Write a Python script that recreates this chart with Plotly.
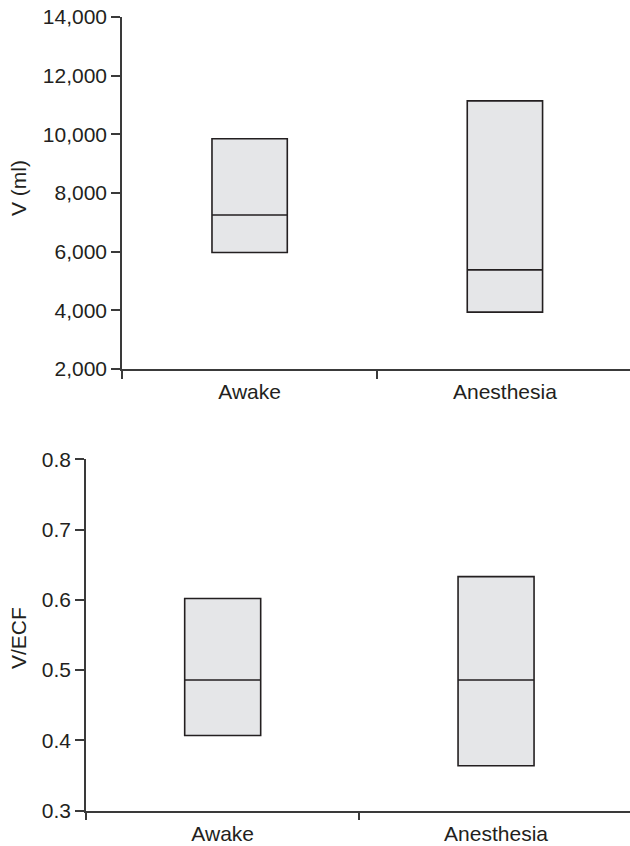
import plotly.graph_objects as go

categories = ["Awake", "Anesthesia"]

# Top panel: V (ml)
v_q1 = [5970, 3940]
v_median = [7250, 5380]
v_q3 = [9850, 11140]

# Bottom panel: V/ECF
r_q1 = [0.407, 0.364]
r_median = [0.486, 0.486]
r_q3 = [0.602, 0.633]

v_ticks = [2000, 4000, 6000, 8000, 10000, 12000, 14000]
r_ticks = [0.3, 0.4, 0.5, 0.6, 0.7, 0.8]

W, H = 630, 846
FILL = "#e5e6e8"
LINE = "#231f20"
AXIS = "#3a3a3a"
FONT = dict(family="Liberation Sans, Arial, sans-serif", size=21, color="#231f20")

fig = go.Figure()

fig.add_trace(go.Box(
    x=categories, q1=v_q1, median=v_median, q3=v_q3,
    lowerfence=v_q1, upperfence=v_q3,
    width=0.295, whiskerwidth=0, boxpoints=False,
    fillcolor=FILL, line=dict(color=LINE, width=1.6),
    xaxis="x", yaxis="y", showlegend=False, hoverinfo="skip",
))
fig.add_trace(go.Box(
    x=categories, q1=r_q1, median=r_median, q3=r_q3,
    lowerfence=r_q1, upperfence=r_q3,
    width=0.278, whiskerwidth=0, boxpoints=False,
    fillcolor=FILL, line=dict(color=LINE, width=1.6),
    xaxis="x2", yaxis="y2", showlegend=False, hoverinfo="skip",
))

common_x = dict(
    type="category", range=[-0.5, 1.49], showgrid=False, zeroline=False,
    showline=True, linecolor=AXIS, linewidth=1.5,
    ticks="outside", tickson="boundaries", ticklen=8, tickwidth=1.5, tickcolor=AXIS,
    tickfont=FONT, automargin=False, ticklabelstandoff=3,
)
common_y = dict(
    showgrid=False, zeroline=False, showline=True, linecolor=AXIS, linewidth=1.5,
    ticks="outside", ticklen=9, tickwidth=1.5, tickcolor=AXIS,
    tickfont=FONT, automargin=False,
)

fig.update_layout(
    width=W, height=H,
    margin=dict(l=0, r=0, t=0, b=0),
    paper_bgcolor="white", plot_bgcolor="white",
    font=FONT,
    xaxis=dict(common_x, domain=[122 / W, 1], anchor="y"),
    yaxis=dict(common_y, domain=[1 - 369 / H, 1 - 17 / H], anchor="x",
               range=[2000, 14000], tickvals=v_ticks, tickformat=",d"),
    xaxis2=dict(common_x, domain=[86 / W, 1], anchor="y2"),
    yaxis2=dict(common_y, domain=[1 - 810.7 / H, 1 - 459.3 / H], anchor="x2",
                range=[0.3, 0.8], tickvals=r_ticks, tickformat=".1f"),
    boxgap=0,
    annotations=[
        dict(text="V (ml)", textangle=-90, xref="paper", yref="paper",
             x=18 / W, y=1 - 188 / H, xanchor="center", yanchor="middle",
             showarrow=False, font=FONT),
        dict(text="V/ECF", textangle=-90, xref="paper", yref="paper",
             x=18 / W, y=1 - 638 / H, xanchor="center", yanchor="middle",
             showarrow=False, font=FONT),
    ],
)

fig.write_html("out.html", config={"displayModeBar": False},
               post_script="document.body.style.margin='0';document.body.style.overflow='hidden';")
